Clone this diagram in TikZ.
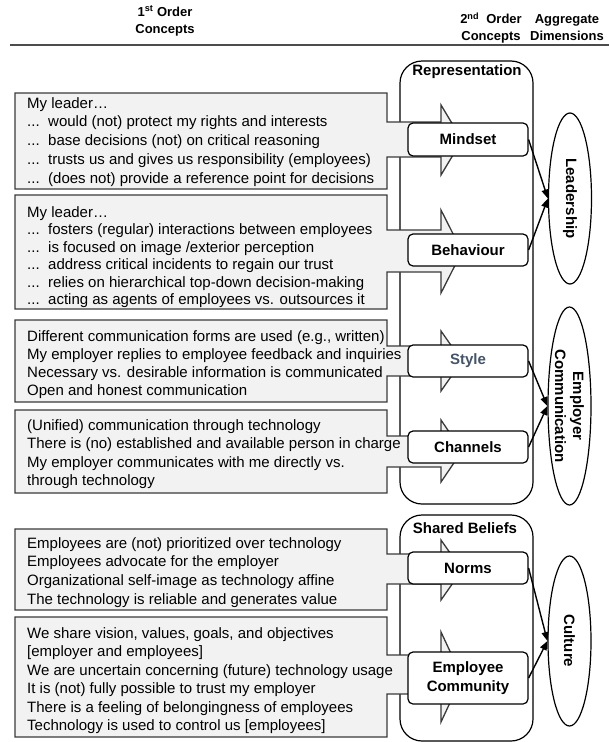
\documentclass[tikz,border=0pt]{standalone}
\usepackage{fontspec}
\setmainfont{Liberation Sans}
\usetikzlibrary{arrows.meta,shapes.geometric}
\definecolor{boxgray}{HTML}{F2F2F2}
\definecolor{edgegray}{HTML}{3A3A3A}
\definecolor{stylecol}{HTML}{44546A}
\newcommand\dd{\makebox[21pt][l]{...}}
\newcommand\mycallout[6]{\draw[cbox] (15,#1) -- (387,#1) -- (387,#3) -- (441,#3) -- (441,#5) -- (462,{(#5+#6)/2}) -- (441,#6) -- (441,#4) -- (387,#4) -- (387,#2) -- (15,#2) -- cycle;}
\begin{document}
\begin{tikzpicture}[x=1pt,y=-1pt,
  cbox/.style={draw=edgegray, line width=1.3pt, fill=boxgray},
  txt/.style={anchor=base west, inner sep=0pt, font=\fontsize{15}{18}\selectfont},
  hdr/.style={align=center, inner sep=0pt, font=\bfseries\fontsize{13}{17}\selectfont},
  bigrect/.style={draw=black, line width=1.2pt, rounded corners=22pt, fill=white},
  grp/.style={anchor=base, inner sep=0pt, font=\bfseries\fontsize{15}{18}\selectfont},
  sbox/.style={draw=black, line width=1.2pt, rounded corners=5pt, fill=white, minimum width=120pt, inner sep=0pt, align=center, font=\bfseries\fontsize{15}{19}\selectfont},
  dim/.style={ellipse, draw=black, line width=1.2pt, inner sep=0pt, rotate=-90, align=center, font=\bfseries\fontsize{15}{18}\selectfont},
  arr/.style={draw=black, line width=1.4pt, -{Triangle[length=9pt,width=7pt]}},
]
\useasboundingbox (0,0) rectangle (609,742);
% headers
\node[hdr] (h1) at (165,21) {1\textsuperscript{st} Order\\Concepts};
\node[hdr] (h2) at (491,28) {2\textsuperscript{nd}\ \ Order\\Concepts};
\node[hdr] (h3) at (567,28) {Aggregate\\Dimensions};
\draw[draw=black!70, line width=1.5pt] (10,45) -- (609,45);
% group frames
\draw[bigrect] (400,61) rectangle (533,504);
\draw[bigrect] (400,515) rectangle (533,741);
\node[grp] (rep) at (467,75) {Representation};
\node[grp] (shb) at (465,533) {Shared Beliefs};
% callouts
\mycallout{93}{189}{122}{157}{105}{175}
\mycallout{195}{309}{230}{272}{210}{293}
\mycallout{320}{402}{346}{376}{331}{391}
\mycallout{410}{493}{436}{467}{420}{482}
\mycallout{529}{610}{554}{584}{540}{600}
\mycallout{617}{737}{655}{694}{632}{722}
% first order texts
\foreach \t [count=\i] in {{My leader…},
  {\dd would (not) protect my rights and interests},
  {\dd base decisions (not) on critical reasoning},
  {\dd trusts us and gives us responsibility (employees)},
  {\dd (does not) provide a reference point for decisions}}
  \node[txt] (a\i) at (27,{108+(\i-1)*18.75}) {\t};
\foreach \t [count=\i] in {{My leader…},
  {\dd fosters (regular) interactions between employees},
  {\dd is focused on image /exterior perception},
  {\dd address critical incidents to regain our trust},
  {\dd relies on hierarchical top-down decision-making},
  {\dd acting as agents of employees vs. outsources it}}
  \node[txt] (b\i) at (27,{217+(\i-1)*17.5}) {\t};
\foreach \t [count=\i] in {{Different communication forms are used (e.g., written)},
  {My employer replies to employee feedback and inquiries},
  {Necessary vs. desirable information is communicated},
  {Open and honest communication}}
  \node[txt] (c\i) at (27,{341+(\i-1)*18}) {\t};
\foreach \t [count=\i] in {{(Unified) communication through technology},
  {There is (no) established and available person in charge},
  {My employer communicates with me directly vs.},
  {through technology}}
  \node[txt] (d\i) at (27,{430+(\i-1)*18.5}) {\t};
\foreach \t [count=\i] in {{Employees are (not) prioritized over technology},
  {Employees advocate for the employer},
  {Organizational self-image as technology affine},
  {The technology is reliable and generates value}}
  \node[txt] (e\i) at (27,{548+(\i-1)*18.7}) {\t};
\foreach \t [count=\i] in {{We share vision, values, goals, and objectives},
  {[employer and employees]},
  {We are uncertain concerning (future) technology usage},
  {It is (not) fully possible to trust my employer},
  {There is a feeling of belongingness of employees},
  {Technology is used to control us [employees]}}
  \node[txt] (f\i) at (27,{638+(\i-1)*18.5}) {\t};
% second order concepts
\node[sbox, minimum height=33pt] (mind) at (468,139.5) {Mindset};
\node[sbox, minimum height=32pt] (beh) at (468,250) {Behaviour};
\node[sbox, minimum height=32pt, text=stylecol] (sty) at (468,361) {Style};
\node[sbox, minimum height=32pt] (chan) at (468,447) {Channels};
\node[sbox, minimum height=32pt] (norm) at (468,568) {Norms};
\node[sbox, minimum height=52pt] (comm) at (468,678) {Employee\\Community};
% aggregate dimensions
\node[dim, minimum width=171pt, minimum height=43pt] (lead) at (570,198.5) {Leadership};
\node[dim, minimum width=198pt, minimum height=43pt] (emp) at (569.5,406) {Employer\\Communication};
\node[dim, minimum width=170pt, minimum height=43pt] (cult) at (569.5,641) {Culture};
% connectors
\draw[arr] (mind.east) -- (lead.south);
\draw[arr] (beh.east) -- (lead.south);
\draw[arr] (sty.east) -- (emp.south);
\draw[arr] (chan.east) -- (emp.south);
\draw[arr] (norm.east) -- (cult.south);
\draw[arr] (comm.east) -- (cult.south);
\end{tikzpicture}
\end{document}
